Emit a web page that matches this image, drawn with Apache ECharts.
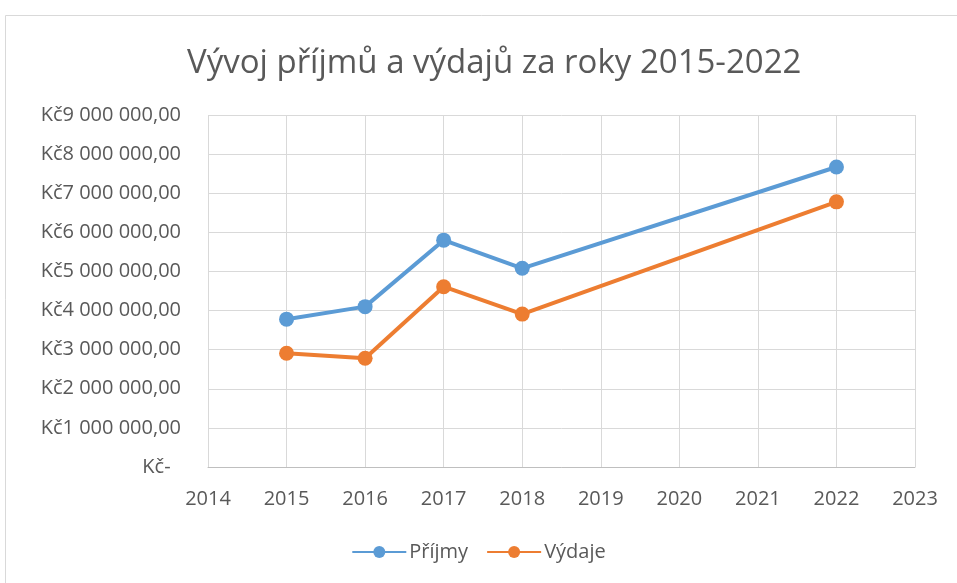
<!DOCTYPE html>
<html>
<head>
<meta charset="utf-8">
<script src="https://cdn.jsdelivr.net/npm/echarts@6/dist/echarts.min.js"></script>
<style>
  html, body { margin: 0; padding: 0; background: #fff; }
  #chart { width: 957px; height: 583px; }
</style>
</head>
<body>
<div id="chart"></div>
<script>
// data
const years = [2015, 2016, 2017, 2018, 2022];
const prijmy = [3780000, 4100000, 5800000, 5080000, 7670000];
const vydaje = [2910000, 2780000, 4610000, 3910000, 6780000];
const seriesNames = ['Příjmy', 'Výdaje'];

const fontFam = '"Open Sans", "Noto Sans", sans-serif';

function kc(v) {
    if (v === 0) return 'Kč-  ';
    let s = String(Math.round(v)).replace(/\B(?=(\d{3})+(?!\d))/g, ' ');
    return 'Kč' + s + ',00';
}

let myChart = echarts.init(document.getElementById('chart'));
let option = {
    backgroundColor: '#ffffff',
    color: ['#5B9BD5', '#ED7D31'],
    animation: false,
    title: {
        text: 'Vývoj příjmů a výdajů za roky 2015-2022',
        left: 182,
        top: 42,
        textStyle: { fontFamily: fontFam, fontSize: 33, fontWeight: 'normal', color: '#595959' }
    },
    graphic: [{
        type: 'rect',
        shape: { x: 5.5, y: 15.5, width: 960, height: 600 },
        style: { fill: 'none', stroke: '#D9D9D9', lineWidth: 1 },
        silent: true
    }],
    legend: {
        bottom: 16,
        left: 'center',
        itemWidth: 54,
        itemHeight: 15,
        itemGap: 18,
        textStyle: { fontFamily: fontFam, fontSize: 20, color: '#595959', padding: [0, 0, 0, -2] },
        data: seriesNames
    },
    grid: { left: 208, right: 42, top: 115, bottom: 116 },
    xAxis: {
        type: 'value',
        min: 2014,
        max: 2023,
        interval: 1,
        axisLine: { show: true, lineStyle: { color: '#BFBFBF', width: 1 } },
        axisTick: { show: false },
        splitLine: { show: true, lineStyle: { color: '#D9D9D9', width: 1 } },
        axisLabel: {
            margin: 22,
            fontFamily: fontFam, fontSize: 20, color: '#595959',
            formatter: v => String(v)
        }
    },
    yAxis: {
        type: 'value',
        min: 0,
        max: 9000000,
        interval: 1000000,
        axisLine: { show: false },
        axisTick: { show: false },
        splitLine: { show: true, lineStyle: { color: '#D9D9D9', width: 1 } },
        axisLabel: {
            margin: 27,
            fontFamily: fontFam, fontSize: 20, color: '#595959',
            formatter: kc
        }
    },
    series: [
        {
            name: seriesNames[0],
            type: 'line',
            data: years.map((y, i) => [y, prijmy[i]]),
            symbol: 'circle',
            symbolSize: 15,
            lineStyle: { width: 4 }
        },
        {
            name: seriesNames[1],
            type: 'line',
            data: years.map((y, i) => [y, vydaje[i]]),
            symbol: 'circle',
            symbolSize: 15,
            lineStyle: { width: 4 }
        }
    ]
};
myChart.setOption(option);
</script>
</body>
</html>
